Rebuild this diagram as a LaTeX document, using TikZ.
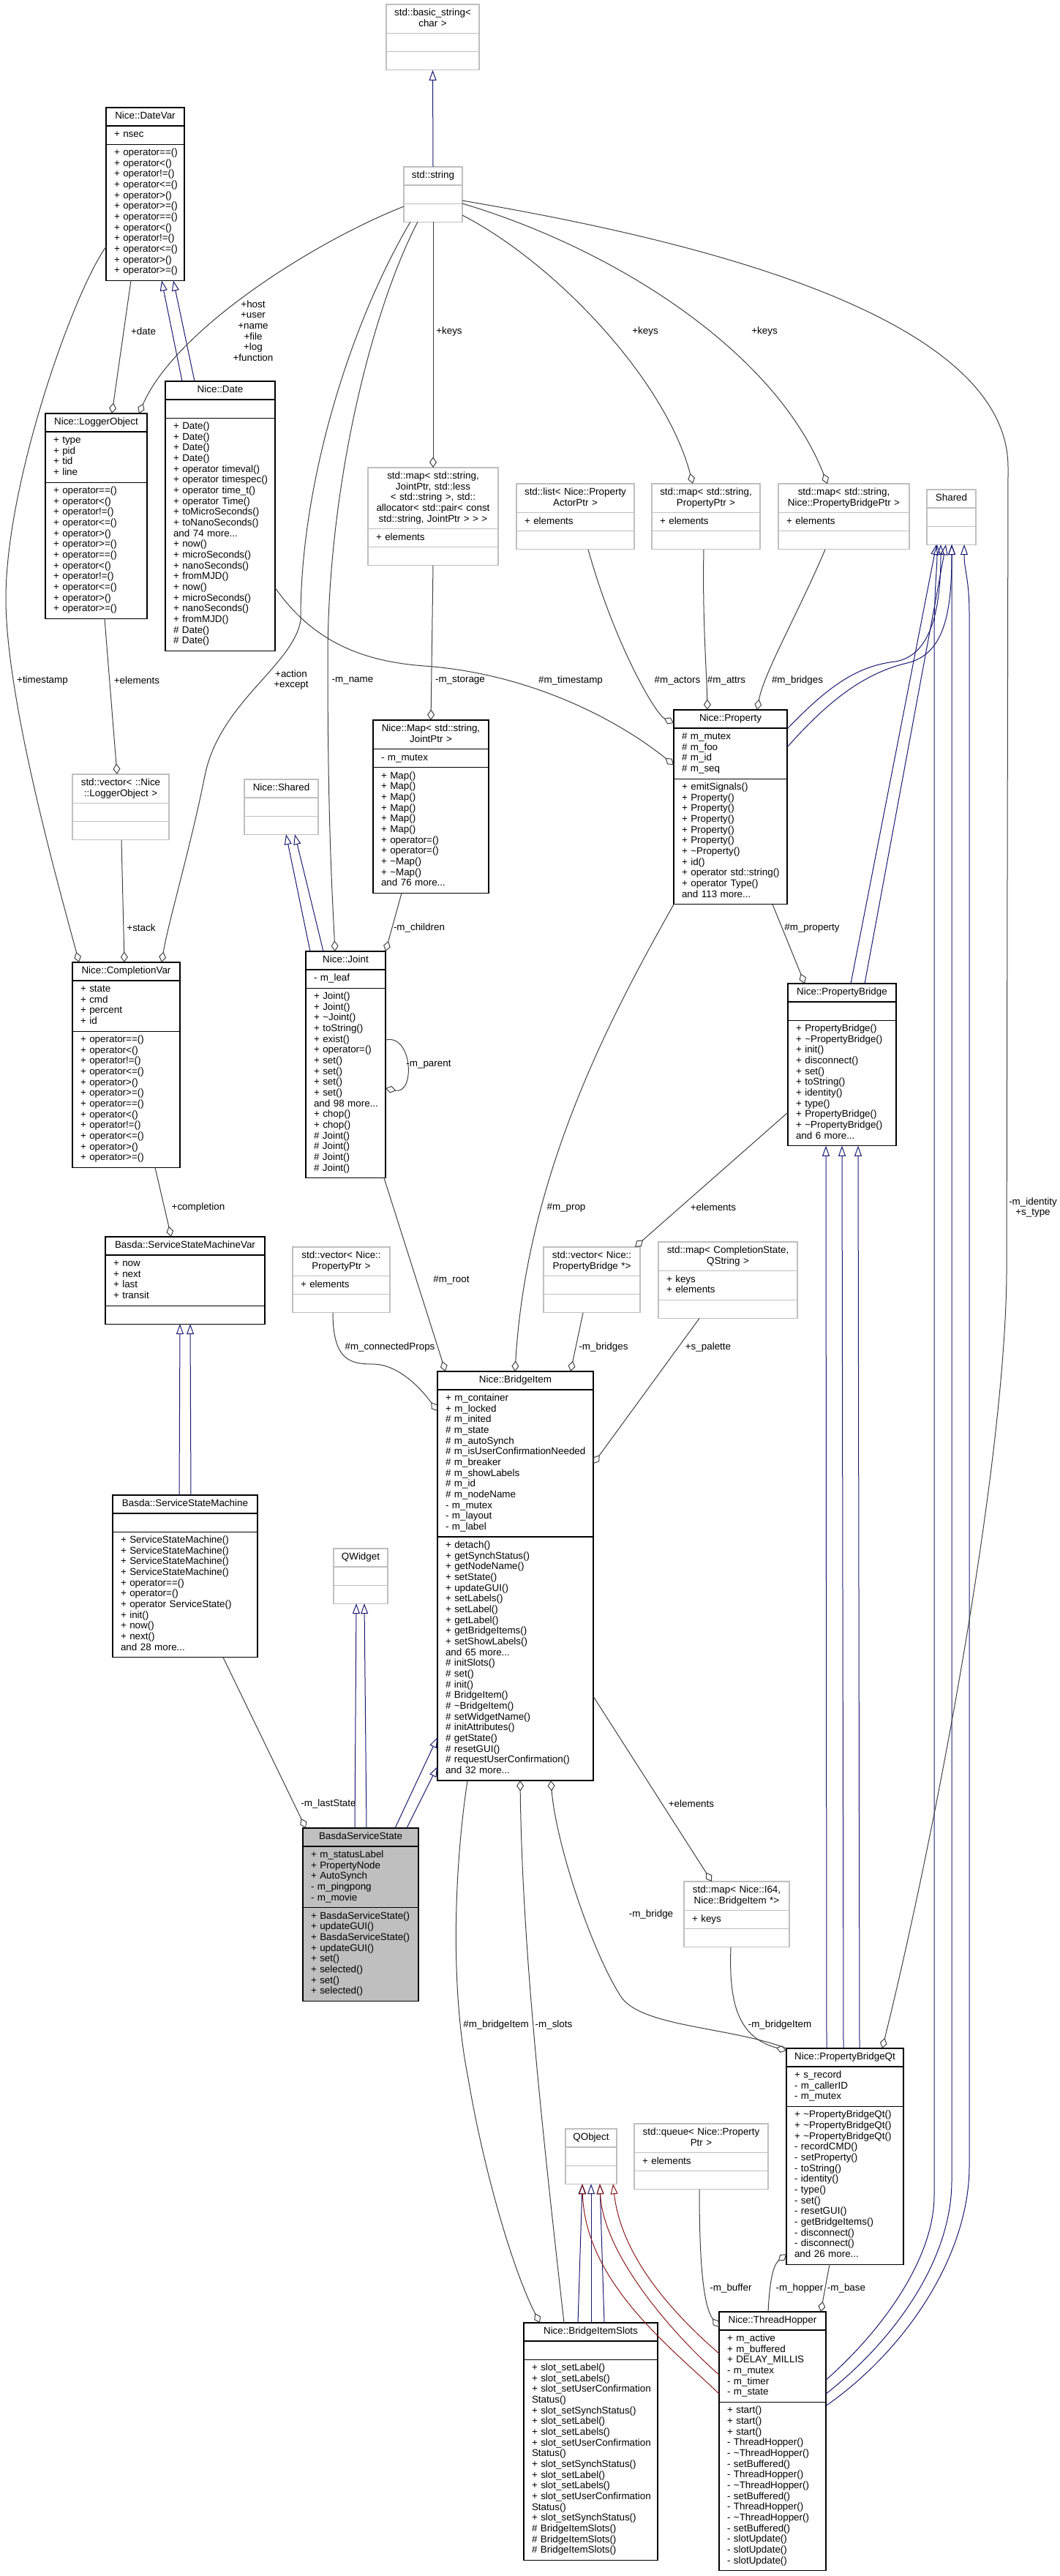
\documentclass[tikz,border=0pt]{standalone}
\usepackage{fontspec}
\setmainfont{Liberation Sans}
\usepackage{tikz}
\usetikzlibrary{positioning,calc,arrows.meta}

\definecolor{inhblue}{HTML}{191970}
\definecolor{privred}{HTML}{8B1A1A}
\definecolor{usegray}{HTML}{404040}
\definecolor{extgray}{HTML}{BFBFBF}
\newcommand{\umlfont}{\fontsize{6.7}{7.33}\selectfont}

\begin{document}
\begin{tikzpicture}[
    x=1pt, y=-1pt,
    node distance=0pt,
    cpart/.style={draw, outer sep=0pt, line width=0.6pt, inner xsep=5.5pt, inner ysep=2.6pt,
        font=\umlfont, text width=#1-11pt, execute at end node=\strut},
    chead/.style={cpart=#1, align=center,
        execute at begin node={\leftskip=0pt plus 1fil minus 150pt\rightskip=0pt plus 1fil minus 150pt\relax\strut}},
    cbody/.style={cpart=#1, align=left,
        execute at begin node={\rightskip=0pt plus 1fil minus 300pt\relax\strut}},
    extcls/.style={draw=extgray},
    maincls/.style={fill=gray!50},
    inh/.style={-{Triangle[open, length=7pt, width=5pt]}, draw=inhblue, line width=0.5pt},
    privinh/.style={inh, draw=privred},
    usage/.style={-{Diamond[open, length=7.3pt, width=5pt]}, draw=usegray, line width=0.5pt},
    elabel/.style={font=\umlfont, align=center, inner sep=0pt},
]
\useasboundingbox (0,0) rectangle (724.5,1760);

% classes, top to bottom
\node[chead=63.5pt, extcls, anchor=north west] (basic) at (264,3) {std::basic\_string<\\char >};
\node[cbody=63.5pt, extcls, below=of basic] (basic-a) {};
\node[cbody=63.5pt, extcls, below=of basic-a] (basic-m) {};

\node[chead=53.5pt, anchor=north west] (datevar) at (72.5,73.5) {Nice::DateVar};
\node[cbody=53.5pt, below=of datevar] (datevar-a) {+ nsec};
\node[cbody=53.5pt, below=of datevar-a] (datevar-m) {+ operator==()\\+ operator<()\\+ operator!=()\\+ operator<=()\\+ operator>()\\+ operator>=()\\+ operator==()\\+ operator<()\\+ operator!=()\\+ operator<=()\\+ operator>()\\+ operator>=()};

\node[chead=40pt, extcls, anchor=north west] (string) at (276,114) {std::string};
\node[cbody=40pt, extcls, below=of string] (string-a) {};
\node[cbody=40pt, extcls, below=of string-a] (string-m) {};

\node[chead=75pt, anchor=north west] (date) at (113,260.5) {Nice::Date};
\node[cbody=75pt, below=of date] (date-a) {};
\node[cbody=75pt, below=of date-a] (date-m) {+ Date()\\+ Date()\\+ Date()\\+ Date()\\+ operator timeval()\\+ operator timespec()\\+ operator time\_t()\\+ operator Time()\\+ toMicroSeconds()\\+ toNanoSeconds()\\and 74 more...\\+ now()\\+ microSeconds()\\+ nanoSeconds()\\+ fromMJD()\\+ now()\\+ microSeconds()\\+ nanoSeconds()\\+ fromMJD()\\\# Date()\\\# Date()};

\node[chead=69.5pt, anchor=north west] (logger) at (31,282.5) {Nice::LoggerObject};
\node[cbody=69.5pt, below=of logger] (logger-a) {+ type\\+ pid\\+ tid\\+ line};
\node[cbody=69.5pt, below=of logger-a] (logger-m) {+ operator==()\\+ operator<()\\+ operator!=()\\+ operator<=()\\+ operator>()\\+ operator>=()\\+ operator==()\\+ operator<()\\+ operator!=()\\+ operator<=()\\+ operator>()\\+ operator>=()};

\node[chead=89pt, extcls, anchor=north west] (mapjoint) at (251.5,319.5) {std::map< std::string,\\JointPtr, std::less\\< std::string >, std::\\allocator< std::pair< const\\std::string, JointPtr > > >};
\node[cbody=89pt, extcls, below=of mapjoint] (mapjoint-a) {+ elements};
\node[cbody=89pt, extcls, below=of mapjoint-a] (mapjoint-m) {};

\node[chead=80.5pt, extcls, anchor=north west] (listact) at (353,330.5) {std::list< Nice::Property\\ActorPtr >};
\node[cbody=80.5pt, extcls, below=of listact] (listact-a) {+ elements};
\node[cbody=80.5pt, extcls, below=of listact-a] (listact-m) {};

\node[chead=74pt, extcls, anchor=north west] (mapprop) at (445.5,330.5) {std::map< std::string,\\PropertyPtr >};
\node[cbody=74pt, extcls, below=of mapprop] (mapprop-a) {+ elements};
\node[cbody=74pt, extcls, below=of mapprop-a] (mapprop-m) {};

\node[chead=89.5pt, extcls, anchor=north west] (mappb) at (532,330.5) {std::map< std::string,\\Nice::PropertyBridgePtr >};
\node[cbody=89.5pt, extcls, below=of mappb] (mappb-a) {+ elements};
\node[cbody=89.5pt, extcls, below=of mappb-a] (mappb-m) {};

\node[chead=33.5pt, extcls, anchor=north west] (shared) at (633.5,334.5) {Shared};
\node[cbody=33.5pt, extcls, below=of shared] (shared-a) {};
\node[cbody=33.5pt, extcls, below=of shared-a] (shared-m) {};

\node[chead=77.5pt, anchor=north west] (property) at (460.5,485) {Nice::Property};
\node[cbody=77.5pt, below=of property] (property-a) {\# m\_mutex\\\# m\_foo\\\# m\_id\\\# m\_seq};
\node[cbody=77.5pt, below=of property-a] (property-m) {+ emitSignals()\\+ Property()\\+ Property()\\+ Property()\\+ Property()\\+ Property()\\+ \textasciitilde Property()\\+ id()\\+ operator std::string()\\+ operator Type()\\and 113 more...};

\node[chead=79pt, anchor=north west] (nicemap) at (255,492) {Nice::Map< std::string,\\JointPtr >};
\node[cbody=79pt, below=of nicemap] (nicemap-a) {- m\_mutex};
\node[cbody=79pt, below=of nicemap-a] (nicemap-m) {+ Map()\\+ Map()\\+ Map()\\+ Map()\\+ Map()\\+ Map()\\+ operator=()\\+ operator=()\\+ \textasciitilde Map()\\+ \textasciitilde Map()\\and 76 more...};

\node[chead=66pt, extcls, anchor=north west] (veclog) at (49.5,529) {std::vector< ::Nice\\::LoggerObject >};
\node[cbody=66pt, extcls, below=of veclog] (veclog-a) {};
\node[cbody=66pt, extcls, below=of veclog-a] (veclog-m) {};

\node[chead=50.5pt, extcls, anchor=north west] (nshared) at (167,532.5) {Nice::Shared};
\node[cbody=50.5pt, extcls, below=of nshared] (nshared-a) {};
\node[cbody=50.5pt, extcls, below=of nshared-a] (nshared-m) {};

\node[chead=54.5pt, anchor=north west] (joint) at (209,650) {Nice::Joint};
\node[cbody=54.5pt, below=of joint] (joint-a) {- m\_leaf};
\node[cbody=54.5pt, below=of joint-a] (joint-m) {+ Joint()\\+ Joint()\\+ \textasciitilde Joint()\\+ toString()\\+ exist()\\+ operator=()\\+ set()\\+ set()\\+ set()\\+ set()\\and 98 more...\\+ chop()\\+ chop()\\\# Joint()\\\# Joint()\\\# Joint()\\\# Joint()};

\node[chead=73.5pt, anchor=north west] (compvar) at (49.5,657.5) {Nice::CompletionVar};
\node[cbody=73.5pt, below=of compvar] (compvar-a) {+ state\\+ cmd\\+ percent\\+ id};
\node[cbody=73.5pt, below=of compvar-a] (compvar-m) {+ operator==()\\+ operator<()\\+ operator!=()\\+ operator<=()\\+ operator>()\\+ operator>=()\\+ operator==()\\+ operator<()\\+ operator!=()\\+ operator<=()\\+ operator>()\\+ operator>=()};

\node[chead=74pt, anchor=north west] (pbridge) at (538.5,672) {Nice::PropertyBridge};
\node[cbody=74pt, below=of pbridge] (pbridge-a) {};
\node[cbody=74pt, below=of pbridge-a] (pbridge-m) {+ PropertyBridge()\\+ \textasciitilde PropertyBridge()\\+ init()\\+ disconnect()\\+ set()\\+ toString()\\+ identity()\\+ type()\\+ PropertyBridge()\\+ \textasciitilde PropertyBridge()\\and 6 more...};

\node[chead=109pt, anchor=north west] (ssmvar) at (72,845) {Basda::ServiceStateMachineVar};
\node[cbody=109pt, below=of ssmvar] (ssmvar-a) {+ now\\+ next\\+ last\\+ transit};
\node[cbody=109pt, below=of ssmvar-a] (ssmvar-m) {};

\node[chead=66.5pt, extcls, anchor=north west] (vecprop) at (200,852) {std::vector< Nice::\\PropertyPtr >};
\node[cbody=66.5pt, extcls, below=of vecprop] (vecprop-a) {+ elements};
\node[cbody=66.5pt, extcls, below=of vecprop-a] (vecprop-m) {};

\node[chead=66pt, extcls, anchor=north west] (vecpb) at (371.5,852) {std::vector< Nice::\\PropertyBridge *>};
\node[cbody=66pt, extcls, below=of vecpb] (vecpb-a) {};
\node[cbody=66pt, extcls, below=of vecpb-a] (vecpb-m) {};

\node[chead=95pt, extcls, anchor=north west] (mappal) at (450,848.5) {std::map< CompletionState,\\QString >};
\node[cbody=95pt, extcls, below=of mappal] (mappal-a) {+ keys\\+ elements};
\node[cbody=95pt, extcls, below=of mappal-a] (mappal-m) {};

\node[chead=106.5pt, anchor=north west] (bitem) at (299,937) {Nice::BridgeItem};
\node[cbody=106.5pt, below=of bitem] (bitem-a) {+ m\_container\\+ m\_locked\\\# m\_inited\\\# m\_state\\\# m\_autoSynch\\\# m\_isUserConfirmationNeeded\\\# m\_breaker\\\# m\_showLabels\\\# m\_id\\\# m\_nodeName\\- m\_mutex\\- m\_layout\\- m\_label};
\node[cbody=106.5pt, below=of bitem-a] (bitem-m) {+ detach()\\+ getSynchStatus()\\+ getNodeName()\\+ setState()\\+ updateGUI()\\+ setLabels()\\+ setLabel()\\+ getLabel()\\+ getBridgeItems()\\+ setShowLabels()\\and 65 more...\\\# initSlots()\\\# set()\\\# init()\\\# BridgeItem()\\\# \textasciitilde BridgeItem()\\\# setWidgetName()\\\# initAttributes()\\\# getState()\\\# resetGUI()\\\# requestUserConfirmation()\\and 32 more...};

\node[chead=99pt, anchor=north west] (ssm) at (77,1021.5) {Basda::ServiceStateMachine};
\node[cbody=99pt, below=of ssm] (ssm-a) {};
\node[cbody=99pt, below=of ssm-a] (ssm-m) {+ ServiceStateMachine()\\+ ServiceStateMachine()\\+ ServiceStateMachine()\\+ ServiceStateMachine()\\+ operator==()\\+ operator=()\\+ operator ServiceState()\\+ init()\\+ now()\\+ next()\\and 28 more...};

\node[chead=37pt, extcls, anchor=north west] (qwidget) at (228,1058) {QWidget};
\node[cbody=37pt, extcls, below=of qwidget] (qwidget-a) {};
\node[cbody=37pt, extcls, below=of qwidget-a] (qwidget-m) {};

\node[chead=79pt, maincls, anchor=north west] (bss) at (207,1249) {BasdaServiceState};
\node[cbody=79pt, maincls, below=of bss] (bss-a) {+ m\_statusLabel\\+ PropertyNode\\+ AutoSynch\\- m\_pingpong\\- m\_movie};
\node[cbody=79pt, maincls, below=of bss-a] (bss-m) {+ BasdaServiceState()\\+ updateGUI()\\+ BasdaServiceState()\\+ updateGUI()\\+ set()\\+ selected()\\+ set()\\+ selected()};

\node[chead=72pt, extcls, anchor=north west] (mapbi) at (467.5,1285.5) {std::map< Nice::I64,\\Nice::BridgeItem *>};
\node[cbody=72pt, extcls, below=of mapbi] (mapbi-a) {+ keys};
\node[cbody=72pt, extcls, below=of mapbi-a] (mapbi-m) {};

\node[chead=80pt, anchor=north west] (pbqt) at (537.5,1399.5) {Nice::PropertyBridgeQt};
\node[cbody=80pt, below=of pbqt] (pbqt-a) {+ s\_record\\- m\_callerID\\- m\_mutex};
\node[cbody=80pt, below=of pbqt-a] (pbqt-m) {+ \textasciitilde PropertyBridgeQt()\\+ \textasciitilde PropertyBridgeQt()\\+ \textasciitilde PropertyBridgeQt()\\- recordCMD()\\- setProperty()\\- toString()\\- identity()\\- type()\\- set()\\- resetGUI()\\- getBridgeItems()\\- disconnect()\\- disconnect()\\and 26 more...};

\node[chead=35pt, extcls, anchor=north west] (qobject) at (386.5,1454.5) {QObject};
\node[cbody=35pt, extcls, below=of qobject] (qobject-a) {};
\node[cbody=35pt, extcls, below=of qobject-a] (qobject-m) {};

\node[chead=91.5pt, extcls, anchor=north west] (queue) at (433.5,1451) {std::queue< Nice::Property\\Ptr >};
\node[cbody=91.5pt, extcls, below=of queue] (queue-a) {+ elements};
\node[cbody=91.5pt, extcls, below=of queue-a] (queue-m) {};

\node[chead=91.5pt, anchor=north west] (bislots) at (358,1587) {Nice::BridgeItemSlots};
\node[cbody=91.5pt, below=of bislots] (bislots-a) {};
\node[cbody=91.5pt, below=of bislots-a] (bislots-m) {+ slot\_setLabel()\\+ slot\_setLabels()\\+ slot\_setUserConfirmation\\Status()\\+ slot\_setSynchStatus()\\+ slot\_setLabel()\\+ slot\_setLabels()\\+ slot\_setUserConfirmation\\Status()\\+ slot\_setSynchStatus()\\+ slot\_setLabel()\\+ slot\_setLabels()\\+ slot\_setUserConfirmation\\Status()\\+ slot\_setSynchStatus()\\\# BridgeItemSlots()\\\# BridgeItemSlots()\\\# BridgeItemSlots()};

\node[chead=73pt, anchor=north west] (hopper) at (491.5,1579.5) {Nice::ThreadHopper};
\node[cbody=73pt, below=of hopper] (hopper-a) {+ m\_active\\+ m\_buffered\\+ DELAY\_MILLIS\\- m\_mutex\\- m\_timer\\- m\_state};
\node[cbody=73pt, below=of hopper-a] (hopper-m) {+ start()\\+ start()\\+ start()\\- ThreadHopper()\\- \textasciitilde ThreadHopper()\\- setBuffered()\\- ThreadHopper()\\- \textasciitilde ThreadHopper()\\- setBuffered()\\- ThreadHopper()\\- \textasciitilde ThreadHopper()\\- setBuffered()\\- slotUpdate()\\- slotUpdate()\\- slotUpdate()};

% inheritance
\draw[inh] (string.north) -- (basic-m.south);
\draw[inh] ($(date.north west)+(11.5,0)$) -- ($(datevar-m.south west)+(38,0)$);
\draw[inh] ($(date.north west)+(20,0)$) -- ($(datevar-m.south west)+(46,0)$);
\draw[inh] ($(joint.north west)+(3,0)$) -- ($(nshared-m.south west)+(28.5,0)$);
\draw[inh] ($(joint.north west)+(12,0)$) -- ($(nshared-m.south west)+(34.5,0)$);
\draw[inh] ($(ssm.north west)+(45.5,0)$) -- ($(ssmvar-m.south west)+(51,0)$);
\draw[inh] ($(ssm.north west)+(53.5,0)$) -- ($(ssmvar-m.south west)+(58,0)$);
\draw[inh] ($(bss.north west)+(35.5,0)$) -- ($(qwidget-m.south west)+(15.5,0)$);
\draw[inh] ($(bss.north west)+(43.5,0)$) -- ($(qwidget-m.south west)+(21,0)$);
\draw[inh] ($(bss.north west)+(63,0)$) -- ($(bitem-m.north west)+(0,137)$);
\draw[inh] ($(bss.north west)+(71,0)$) -- ($(bitem-m.north west)+(0,157)$);
\draw[inh] ($(pbqt.north west)+(27.5,0)$) -- ($(pbridge-m.south west)+(26,0)$);
\draw[inh] ($(pbqt.north west)+(39,0)$) -- ($(pbridge-m.south west)+(37,0)$);
\draw[inh] ($(pbqt.north west)+(50,0)$) -- ($(pbridge-m.south west)+(48,0)$);
\draw[inh] ($(bislots.north west)+(37,0)$) -- ($(qobject-m.south west)+(11.5,0)$);
\draw[inh] ($(bislots.north west)+(46,0)$) -- ($(qobject-m.south west)+(17.5,0)$);
\draw[inh] ($(bislots.north west)+(55,0)$) -- ($(qobject-m.south west)+(23.5,0)$);
\draw[privinh] ($(hopper-a.north west)+(0,16)$) .. controls (465,1585) and (425,1545) .. ($(qobject-m.south west)+(32.5,0)$);
\draw[privinh] ($(hopper-a.north west)+(0,30.5)$) .. controls (460,1595) and (412,1540) .. ($(qobject-m.south west)+(23.5,0)$);
\draw[privinh] ($(hopper-a.north west)+(0,43.5)$) .. controls (460,1605) and (400,1560) .. ($(qobject-m.south west)+(11.5,0)$);
\draw[inh] ($(property-a.north east)+(0,0.5)$) .. controls (565,470) and (585,455) .. (612,452) .. controls (635,448) and (643,420) .. ($(shared-m.south west)+(9.5,0)$);
\draw[inh] ($(property-a.north east)+(0,13)$) .. controls (565,480) and (590,460) .. (620,453) .. controls (645,447) and (650.5,420) .. ($(shared-m.south west)+(17,0)$);
\draw[inh] ($(pbridge.north west)+(43,0)$) -- ($(shared-m.south west)+(6.5,0)$);
\draw[inh] ($(pbridge.north west)+(52.5,0)$) -- ($(shared-m.south west)+(13,0)$);
\draw[inh] ($(hopper-a.north east)+(0,34)$) .. controls (600,1595) and (638.5,1545) .. (638.5,1500) -- (638.5,440) .. controls (638.5,400) and (640.5,390) .. ($(shared-m.south west)+(7,0)$);
\draw[inh] ($(hopper-a.north east)+(0,43.5)$) .. controls (610,1600) and (650.5,1545) .. (650.5,1490) -- ($(shared-m.south west)+(17,0)$);
\draw[inh] ($(hopper-m.north east)+(0,2.5)$) .. controls (620,1605) and (662.5,1540) .. (662.5,1480) -- (662.5,420) .. controls (662.5,395) and (659,390) .. ($(shared-m.south west)+(25.5,0)$);

% members
\draw[usage] ($(datevar-m.south west)+(17,0)$) -- ($(logger.north west)+(45.5,0)$)
    node[elabel] (l-date) at (98,226.5) {+date};
\draw[usage] ($(string-m.north west)+(0,2)$) .. controls (215,165) and (120,225) .. ($(logger.north west)+(64,0)$)
    node[elabel] (l-host) at (173,226) {+host\\+user\\+name\\+file\\+log\\+function};
\draw[usage] ($(datevar-m.north west)+(0,70)$) .. controls (50,200) and (4,330) .. (4,409) .. controls (4,480) and (42,612) .. ($(compvar.north west)+(4.5,0)$)
    node[elabel] (l-timestamp) at (29,465) {+timestamp};
\draw[usage] ($(logger-m.south west)+(40.5,0)$) -- ($(veclog.north west)+(30.5,0)$)
    node[elabel] (l-logelems) at (93.5,465) {+elements};
\draw[usage] ($(veclog-m.south west)+(33.5,0)$) -- ($(compvar.north west)+(35.5,0)$)
    node[elabel] (l-stack) at (96.5,634) {+stack};
\draw[usage] ($(string-m.south west)+(4.5,0)$) .. controls (240,220) and (205,330) .. (205.5,424) .. controls (200,455) and (150,480) .. (140,530) .. controls (130,580) and (115,630) .. ($(compvar.north west)+(61,0)$)
    node[elabel] (l-action) at (199,464.5) {+action\\+except};
\draw[usage] ($(string-m.south west)+(9.5,0)$) .. controls (255,210) and (224,330) .. (224,450) .. controls (224,560) and (227,610) .. ($(joint.north west)+(20,0)$)
    node[elabel] (l-name) at (241,465) {-m\_name};
\draw[usage] (string-m.south) -- (mapjoint.north)
    node[elabel] (l-keys1) at (307,226.5) {+keys};
\draw[usage] ($(string-m.north east)+(0,8)$) .. controls (380,180) and (455,260) .. ($(mapprop.north west)+(28,0)$)
    node[elabel] (l-keys2) at (441,226.5) {+keys};
\draw[usage] (string-m.north east) .. controls (420,170) and (530,240) .. ($(mappb.north west)+(33.5,0)$)
    node[elabel] (l-keys3) at (522.5,226.5) {+keys};
\draw[usage] ($(string-a.north east)+(0,10.5)$) .. controls (450,160) and (690,210) .. (689,320) -- (688,870) .. controls (687,1000) and (640,1250) .. ($(pbqt.north west)+(65.5,0)$)
    node[elabel] (l-identity) at (706,825) {-m\_identity\\+s\_type};
\draw[usage] ($(date-m.north east)+(0,116)$) .. controls (215,440) and (250,452) .. (290,455) .. controls (360,460) and (420,490) .. ($(property-a.north west)+(0,25)$)
    node[elabel] (l-timestamp2) at (390,465) {\#m\_timestamp};
\draw[usage] ($(listact-m.south west)+(49,0)$) .. controls (420,440) and (448,488) .. ($(property.north west)+(0,9)$)
    node[elabel] (l-actors) at (463,465) {\#m\_actors};
\draw[usage] ($(mapprop-m.south west)+(35.5,0)$) .. controls (480,420) and (483,460) .. ($(property.north west)+(23,0)$)
    node[elabel] (l-attrs) at (496.5,465) {\#m\_attrs};
\draw[usage] ($(mappb-m.south west)+(32,0)$) .. controls (545,420) and (522,460) .. ($(property.north west)+(57,0)$)
    node[elabel] (l-bridges) at (545,465) {\#m\_bridges};
\draw[usage] (mapjoint-m.south) -- (nicemap.north)
    node[elabel] (l-storage) at (314.5,465) {-m\_storage};
\draw[usage] ($(nicemap-m.south west)+(19.5,0)$) -- (joint.north east)
    node[elabel] (l-children) at (286.5,634) {-m\_children};
\draw[usage] ($(joint-m.north east)+(0,35.5)$) .. controls (282,706) and (284,748) .. ($(joint-m.north east)+(0,68.5)$)
    node[elabel] (l-parent) at (293,727.5) {-m\_parent};
\draw[usage] ($(joint-m.south east)+(-1,0)$) -- ($(bitem.north west)+(5.5,0)$)
    node[elabel] (l-root) at (308.5,874.5) {\#m\_root};
\draw[usage] (property-m.south west) .. controls (420,690) and (360,800) .. ($(bitem.north west)+(53,0)$)
    node[elabel] (l-prop) at (387,825) {\#m\_prop};
\draw[usage] ($(property-m.south west)+(67.5,0)$) -- ($(pbridge.north west)+(11.5,0)$)
    node[elabel] (l-property) at (555,634) {\#m\_property};
\draw[usage] ($(pbridge-m.north west)+(0,63)$) -- ($(vecpb.north west)+(62.5,0)$)
    node[elabel] (l-pbelems) at (487.5,825) {+elements};
\draw[usage] ($(vecpb-m.south west)+(27,0)$) -- ($(bitem.north west)+(91,0)$)
    node[elabel] (l-mbridges) at (412.5,920.5) {-m\_bridges};
\draw[usage] ($(mappal-m.south west)+(28,0)$) -- ($(bitem-a.north east)+(0,50.5)$)
    node[elabel] (l-palette) at (484,920.5) {+s\_palette};
\draw[usage] ($(vecprop-m.south west)+(27.5,0)$) .. controls (227.5,930) and (240,932) .. (255,932) .. controls (270,932) and (285,945) .. ($(bitem-a.north west)+(0,14.5)$)
    node[elabel] (l-connected) at (266.5,920.5) {\#m\_connectedProps};
\draw[usage] ($(compvar-m.south west)+(56.5,0)$) -- ($(ssmvar.north west)+(45,0)$)
    node[elabel] (l-completion) at (135.5,825) {+completion};
\draw[usage] ($(ssm-m.south west)+(75.5,0)$) -- ($(bss.north west)+(2,0)$)
    node[elabel] (l-laststate) at (224.5,1232.5) {-m\_lastState};
\draw[usage] ($(bitem-m.north east)+(0,109)$) -- ($(mapbi.north west)+(19,0)$)
    node[elabel] (l-bielems) at (472.5,1232.5) {+elements};
\draw[usage] (pbqt.north west) .. controls (500,1385) and (440,1385) .. (425,1365) .. controls (405,1335) and (380,1260) .. ($(bitem-m.south west)+(77.5,0)$)
    node[elabel] (l-bridge) at (445,1308) {-m\_bridge};
\draw[usage] ($(mapbi-m.south west)+(32,0)$) .. controls (498,1370) and (505,1392) .. ($(pbqt.north west)+(0,1.5)$)
    node[elabel] (l-bridgeitem) at (533,1383.5) {-m\_bridgeItem};
\draw[usage] ($(bislots.north west)+(27.5,0)$) .. controls (370,1450) and (357,1330) .. ($(bitem-m.south west)+(56.5,0)$)
    node[elabel] (l-slots) at (378.5,1383.5) {-m\_slots};
\draw[usage] ($(bitem-m.south west)+(20.5,0)$) .. controls (310,1280) and (308,1360) .. (320,1420) .. controls (330,1480) and (350,1550) .. ($(bislots.north west)+(11,0)$)
    node[elabel] (l-bisitem) at (339,1383.5) {\#m\_bridgeItem};
\draw[usage] ($(queue-m.south west)+(44.5,0)$) .. controls (478,1540) and (480,1575) .. ($(hopper.north west)+(0,10.5)$)
    node[elabel] (l-buffer) at (499.5,1563.5) {-m\_buffer};
\draw[usage] ($(hopper.north west)+(33.5,0)$) .. controls (526,1560) and (528,1548) .. ($(pbqt-m.south west)+(0,-7)$)
    node[elabel] (l-hopper) at (546.5,1563.5) {-m\_hopper};
\draw[usage] ($(pbqt-m.south west)+(29.5,0)$) -- ($(hopper.north east)+(-3.5,0)$)
    node[elabel] (l-base) at (578.5,1563.5) {-m\_base};

\end{tikzpicture}
\end{document}
